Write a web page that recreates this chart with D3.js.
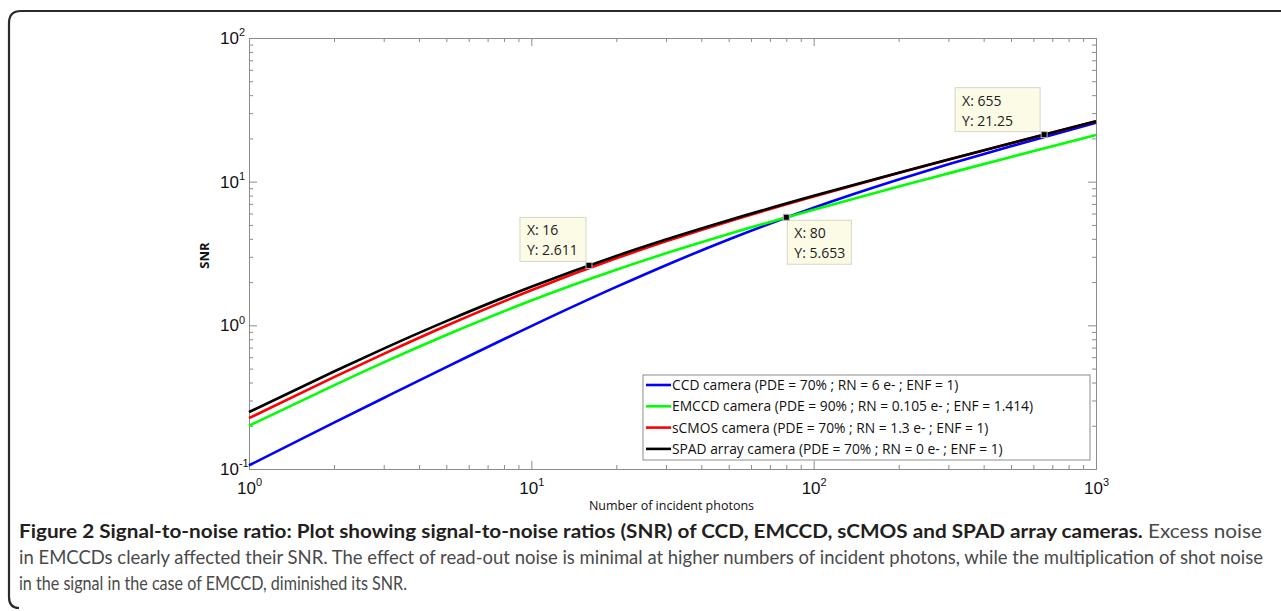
<!DOCTYPE html>
<meta charset="utf-8">
<html>
<head>
  <title>SNR of camera types</title>
  <style>
    body { margin: 0; background: #fff; }
    svg { display: block; font-family: 'Open Sans', 'Liberation Sans', sans-serif; }
    .axis path, .axis line { stroke: #8c8c8c; }
    .axis text { fill: #111; }
    .curve { fill: none; stroke-width: 2.6px; }
    .caption { font-family: Lato, 'Open Sans', sans-serif; font-size: 18.5px; }
  </style>
  <script src="https://d3js.org/d3.v7.min.js"></script>
</head>
<body>
  <svg width="1281" height="611"></svg>

  <script>
    var photons = [1, 2, 3, 5, 10, 20, 30, 50, 100, 200, 300, 500, 1000];
    var ccd    = [0.106, 0.210, 0.312, 0.512, 0.988, 1.851, 2.621, 3.958, 6.579, 10.34, 13.20, 17.65, 25.68];
    var emccd  = [0.200, 0.382, 0.552, 0.857, 1.489, 2.437, 3.170, 4.319, 6.387, 9.252, 11.42, 14.85, 21.10];
    var scmos  = [0.226, 0.436, 0.633, 0.994, 1.756, 2.926, 3.841, 5.283, 7.881, 11.47, 14.19, 18.48, 26.29];
    var spad   = [0.249, 0.477, 0.689, 1.070, 1.858, 3.041, 3.955, 5.388, 7.967, 11.54, 14.25, 18.52, 26.32];

    var seriesNames = [
      "CCD camera (PDE = 70% ; RN = 6 e- ; ENF = 1)",
      "EMCCD camera (PDE = 90% ; RN = 0.105 e- ; ENF = 1.414)",
      "sCMOS camera (PDE = 70% ; RN = 1.3 e- ; ENF = 1)",
      "SPAD array camera  (PDE = 70% ; RN = 0 e- ; ENF = 1)"
    ];
    var seriesColors = ["#0000ff", "#00ff00", "#ff0000", "#000000"];

    // data tips shown on the plot
    var tipX = [16, 80, 655];
    var tipY = [2.611, 5.653, 21.25];

    var xMajor = [1, 10, 100, 1000];
    var yMajor = [0.1, 1, 10, 100];

    var svg = d3.select("svg");
    var margin = {top: 38, right: 185, bottom: 142, left: 249};
    var width = 1281 - margin.left - margin.right;
    var height = 611 - margin.top - margin.bottom;

    var x = d3.scaleLog().domain([1, 1000]).range([0, width]);
    var y = d3.scaleLog().domain([0.1, 100]).range([height, 0]);

    // outer frame round figure + caption
    svg.append("path")
      .attr("d", "M1281,11 H21 Q9,11 9,23 V597 Q9,608 19,608")
      .attr("fill", "none")
      .attr("stroke", "#2b2b2b")
      .attr("stroke-width", 2.2);

    var g = svg.append("g")
      .attr("transform", "translate(" + margin.left + "," + margin.top + ")");

    var isMajor = function(v) { return Math.abs(Math.log10(v) - Math.round(Math.log10(v))) < 1e-9; };
    var xMinor = x.ticks().filter(function(v) { return !isMajor(v); });
    var yMinor = y.ticks().filter(function(v) { return !isMajor(v); });

    function supLabel(sel, fn) {
      sel.selectAll(".tick text").each(function(d) {
        var t = d3.select(this).text(null);
        t.append("tspan").text("10");
        t.append("tspan").attr("dy", "-0.7em").style("font-size", "11px").text(fn(d));
      });
    }

    // minor ticks (inside, all four sides)
    g.append("g").attr("class", "axis").attr("transform", "translate(0," + height + ")")
      .call(d3.axisBottom(x).tickValues(xMinor).tickSize(-4).tickFormat(""));
    g.append("g").attr("class", "axis")
      .call(d3.axisTop(x).tickValues(xMinor).tickSize(-4).tickFormat(""));
    g.append("g").attr("class", "axis")
      .call(d3.axisLeft(y).tickValues(yMinor).tickSize(-4).tickFormat(""));
    g.append("g").attr("class", "axis").attr("transform", "translate(" + width + ",0)")
      .call(d3.axisRight(y).tickValues(yMinor).tickSize(-4).tickFormat(""));

    // major ticks with labels
    var xAxis = g.append("g").attr("class", "axis").attr("transform", "translate(0," + height + ")")
      .call(d3.axisBottom(x).tickValues(xMajor).tickSizeInner(-8).tickSizeOuter(0).tickPadding(13));
    xAxis.attr("font-size", null).style("font-size", "17px");
    supLabel(xAxis, function(d) { return Math.round(Math.log10(d)); });

    g.append("g").attr("class", "axis")
      .call(d3.axisTop(x).tickValues(xMajor).tickSizeInner(-8).tickSizeOuter(0).tickFormat(""));

    var yAxis = g.append("g").attr("class", "axis")
      .call(d3.axisLeft(y).tickValues(yMajor).tickSizeInner(-8).tickSizeOuter(0));
    yAxis.attr("font-size", null).style("font-size", "17px");
    yAxis.selectAll(".tick text").attr("text-anchor", "start").attr("x", -29);
    supLabel(yAxis, function(d) { return Math.round(Math.log10(d)); });

    g.append("g").attr("class", "axis").attr("transform", "translate(" + width + ",0)")
      .call(d3.axisRight(y).tickValues(yMajor).tickSizeInner(-8).tickSizeOuter(0).tickFormat(""));

    g.selectAll(".axis .domain").attr("stroke", "#8c8c8c");

    // axis titles
    g.append("text")
      .attr("x", width / 2 - 1)
      .attr("y", height + 41)
      .attr("text-anchor", "middle")
      .style("font-size", "12.5px")
      .attr("fill", "#111")
      .text("Number of incident photons");

    g.append("text")
      .attr("transform", "translate(-40," + (height / 2 + 2) + ") rotate(-90)")
      .attr("text-anchor", "middle")
      .style("font-size", "13px")
      .attr("font-weight", "bold")
      .attr("fill", "#111")
      .text("SNR");

    // curves
    var allSeries = [ccd, emccd, scmos, spad];
    var line = d3.line()
      .x(function(d, i) { return x(photons[i]); })
      .y(function(d) { return y(d); })
      .curve(d3.curveMonotoneX);

    g.selectAll(".curve")
      .data(allSeries)
      .enter().append("path")
      .attr("class", "curve")
      .attr("stroke", function(d, i) { return seriesColors[i]; })
      .attr("d", line);

    // data tips
    var tipLayout = [
      {dx: -69, dy: -48, w: 66},
      {dx: 1, dy: 3, w: 64},
      {dx: -89, dy: -47, w: 85}
    ];
    tipX.forEach(function(tx, i) {
      var px = x(tx), py = y(tipY[i]), L = tipLayout[i];
      var tg = g.append("g").attr("transform", "translate(" + (px + L.dx) + "," + (py + L.dy) + ")");
      tg.append("rect").attr("width", L.w).attr("height", 44)
        .attr("fill", "#fbfbe6").attr("stroke", "#d6d6c8");
      tg.append("text").attr("x", 7).attr("y", 18).style("font-size", "14px").attr("fill", "#222")
        .text("X: " + tx);
      tg.append("text").attr("x", 7).attr("y", 38).style("font-size", "14px").attr("fill", "#222")
        .text("Y: " + tipY[i]);
      g.append("rect")
        .attr("x", px - 3).attr("y", py - 3).attr("width", 6).attr("height", 6)
        .attr("fill", "#000").attr("stroke", "#bbb").attr("stroke-width", 1);
    });

    // legend
    var leg = g.append("g").attr("transform", "translate(" + (643 - margin.left) + "," + (375 - margin.top) + ")");
    leg.append("rect").attr("width", 447).attr("height", 85)
      .attr("fill", "#fff").attr("stroke", "#8c8c8c");
    seriesNames.forEach(function(name, i) {
      var ly = 10 + i * 21.3;
      leg.append("line").attr("x1", 3).attr("x2", 28).attr("y1", ly).attr("y2", ly)
        .attr("stroke", seriesColors[i]).attr("stroke-width", 2.6);
      leg.append("text").attr("x", 29).attr("y", ly + 5)
        .style("font-size", "13.8px").attr("fill", "#111").text(name);
    });

    // caption
    var cap = svg.append("g").attr("class", "caption");
    var l1 = cap.append("text").attr("x", 19).attr("y", 538)
      .attr("textLength", 1243).attr("lengthAdjust", "spacingAndGlyphs");
    l1.append("tspan").attr("font-weight", "bold").attr("fill", "#231f20")
      .text("Figure 2 Signal-to-noise ratio: Plot showing signal-to-noise ratios (SNR) of CCD, EMCCD, sCMOS and SPAD array cameras.");
    l1.append("tspan").attr("fill", "#4a4a4a").text(" Excess noise");
    cap.append("text").attr("x", 19).attr("y", 564).attr("fill", "#4a4a4a")
      .attr("textLength", 1244).attr("lengthAdjust", "spacingAndGlyphs")
      .text("in EMCCDs clearly affected their SNR. The effect of read-out noise is minimal at higher numbers of incident photons, while the multiplication of shot noise");
    cap.append("text").attr("x", 19).attr("y", 590).attr("fill", "#4a4a4a")
      .attr("textLength", 388).attr("lengthAdjust", "spacingAndGlyphs")
      .text("in the signal in the case of EMCCD, diminished its SNR.");
  </script>
</body>
</html>
